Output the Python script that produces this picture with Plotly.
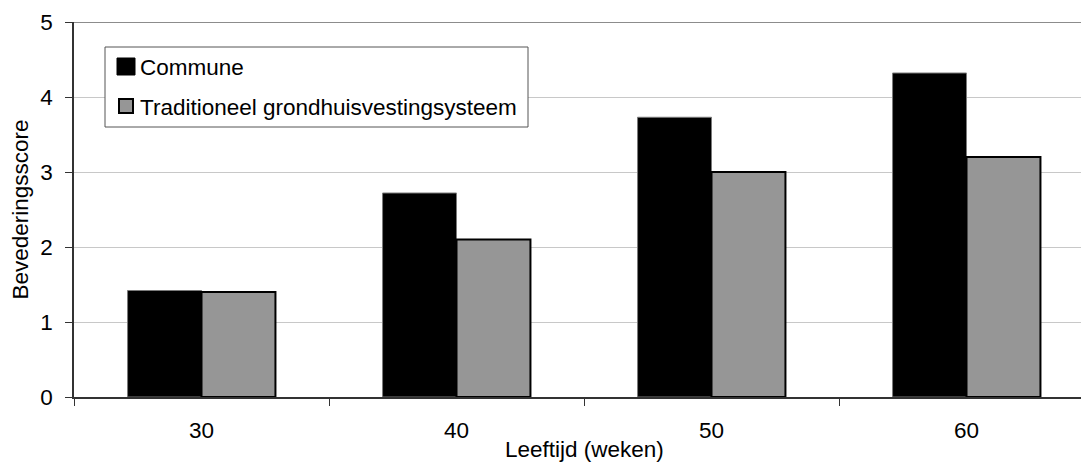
import plotly.graph_objects as go

# Ages (weeks) and feather scores per housing system
ages = ["30", "40", "50", "60"]
commune = [1.42, 2.72, 3.73, 4.32]
traditioneel = [1.40, 2.10, 3.00, 3.20]
series_names = ["Commune", "Traditioneel grondhuisvestingsysteem"]

W, H = 1081, 465
L, R, T, B = 74, 0, 22, 68
PW, PH = W - L - R, H - T - B
FONT = "Arial, Liberation Sans, sans-serif"
FS = 22.5


def px_x(p):
    return (p - L) / PW


def px_y(p):
    return (T + PH - p) / PH


fig = go.Figure()
fig.add_trace(go.Bar(
    x=ages, y=commune, name=series_names[0],
    marker=dict(color="#000000", line=dict(color="#7a7a7a", width=1)),
    showlegend=False,
))
fig.add_trace(go.Bar(
    x=ages, y=traditioneel, name=series_names[1],
    marker=dict(color="#969696", line=dict(color="#000000", width=2)),
    showlegend=False,
))

# category width of 255 px; the right side runs past the figure edge
cat_px = 255.0
x_right = -0.5 + PW / cat_px

shapes = [
    # top frame line at y = 5
    dict(type="line", xref="paper", yref="y", x0=0, x1=1, y0=5, y1=5,
         line=dict(color="#8c8c8c", width=2), layer="above"),
    # legend box
    dict(type="rect", xref="paper", yref="paper",
         x0=px_x(105), x1=px_x(528), y0=px_y(127), y1=px_y(47),
         fillcolor="white", line=dict(color="#555555", width=1), layer="above"),
    # legend swatches
    dict(type="rect", xref="paper", yref="paper",
         x0=px_x(117), x1=px_x(135), y0=px_y(75), y1=px_y(58),
         fillcolor="#000000", line=dict(color="#000000", width=1), layer="above"),
    dict(type="rect", xref="paper", yref="paper",
         x0=px_x(119), x1=px_x(133), y0=px_y(113), y1=px_y(99),
         fillcolor="#969696", line=dict(color="#000000", width=2), layer="above"),
]

annotations = [
    dict(text=series_names[0], xref="paper", yref="paper",
         x=px_x(138), y=px_y(67), xanchor="left", yanchor="middle",
         showarrow=False, font=dict(family=FONT, size=FS, color="black")),
    dict(text=series_names[1], xref="paper", yref="paper",
         x=px_x(138), y=px_y(107), xanchor="left", yanchor="middle",
         showarrow=False, font=dict(family=FONT, size=FS, color="black")),
    # axis titles
    dict(text="Leeftijd (weken)", xref="x", yref="paper",
         x=1.5, y=px_y(436), xanchor="center", yanchor="top", borderpad=0,
         showarrow=False, font=dict(family=FONT, size=FS, color="black")),
    dict(text="Bevederingsscore", xref="paper", yref="paper",
         x=px_x(20), y=0.5, xanchor="center", yanchor="middle", textangle=-90,
         showarrow=False, font=dict(family=FONT, size=FS, color="black")),
]

fig.update_layout(
    width=W, height=H,
    margin=dict(l=L, r=R, t=T, b=B, pad=0),
    paper_bgcolor="white", plot_bgcolor="white",
    barmode="group", bargap=0.42, bargroupgap=0,
    font=dict(family=FONT, size=FS, color="black"),
    shapes=shapes, annotations=annotations,
    xaxis=dict(
        type="category", range=[-0.5, x_right],
        showgrid=False, showline=True, linecolor="#333333", linewidth=1.5,
        ticks="outside", tickson="boundaries", ticklen=7, tickcolor="#333333",
        tickfont=dict(family=FONT, size=FS, color="black"),
        ticklabelstandoff=12, zeroline=False,
    ),
    yaxis=dict(
        range=[0, 5], dtick=1, tick0=0,
        showgrid=True, gridcolor="#c8c8c8", gridwidth=1,
        showline=True, linecolor="#333333", linewidth=1.5,
        ticks="outside", ticklen=7, tickcolor="#333333",
        tickfont=dict(family=FONT, size=FS, color="black"),
        ticklabelstandoff=8, zeroline=False,
    ),
)

fig.write_html("out.html")
